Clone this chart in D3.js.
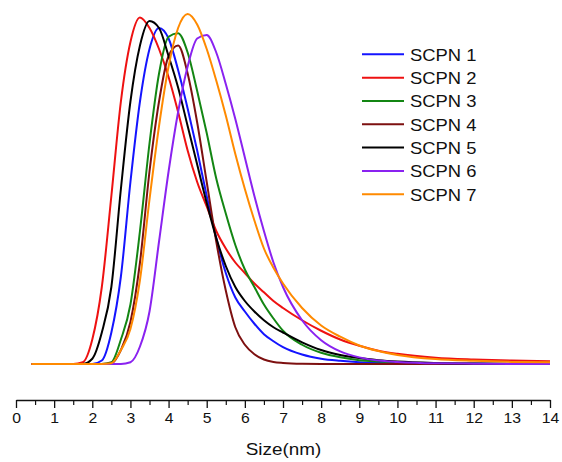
<!DOCTYPE html>
<html>
<head>
<meta charset="utf-8">
<script src="https://cdn.jsdelivr.net/npm/d3@7"></script>
<style>
  html, body { margin: 0; padding: 0; background: #fff; }
  svg { display: block; }
  text { font-family: "Liberation Sans", Arial, sans-serif; fill: #111; }
</style>
</head>
<body>
<svg id="chart" width="562" height="462"></svg>
<script>
// ---- data ----
const sizes = [0.4, 1.5, 1.75, 2.0, 2.25, 2.5, 2.75, 3.0, 3.25, 3.5, 3.75, 4.0, 4.25, 4.5, 4.75, 5.0,
               5.25, 5.5, 5.75, 6.0, 6.25, 6.5, 6.75, 7.0, 7.5, 8.0, 8.5, 9.0, 9.5, 10, 11, 12, 13, 14];

const scpn1 = [0, 0, 0, 0, 1, 9, 25, 52, 75, 90, 96, 93, 84, 73, 61, 48,
               36, 26, 19, 15, 11.5, 8.5, 6.5, 4.8, 2.7, 1.5, 0.9, 0.5, 0.3, 0.2, 0.1, 0.05, 0, 0];
const scpn2 = [0, 0, 0.5, 7, 22, 48, 75, 92, 99, 96, 90, 82, 72, 61, 52, 45,
               38, 33, 29, 26, 23, 20.5, 18, 16, 12.5, 9.5, 7, 5.2, 3.8, 2.9, 1.8, 1.3, 1.0, 0.8];
const scpn3 = [0, 0, 0, 0, 0, 0.5, 7, 17, 38, 63, 83, 93.5, 94.5, 89, 78, 66,
               53, 43, 34, 27, 22, 17, 13, 9.5, 5.5, 3.2, 1.9, 1.1, 0.7, 0.4, 0.15, 0.05, 0, 0];
const scpn4 = [0, 0, 0, 0, 0, 0.2, 4, 12, 29, 55, 75, 88, 91, 83, 69, 52,
               35, 21, 10.5, 5.5, 2.8, 1.3, 0.6, 0.3, 0.05, 0, 0, 0, 0, 0, 0, 0, 0, 0];
const scpn5 = [0, 0, 0, 1.5, 9, 22, 50, 75, 91, 98, 96, 88, 79, 68, 57, 46,
               36, 28, 22, 18, 15, 12.5, 10.5, 9, 6.2, 4.0, 2.6, 1.7, 1.1, 0.7, 0.3, 0.15, 0.1, 0.05];
const scpn6 = [0, 0, 0, 0, 0, 0, 0, 0.5, 5, 15, 35, 55, 72, 85, 93, 94,
               89, 80, 70, 59, 48, 38, 29, 22, 12.5, 6.8, 3.6, 1.9, 1.0, 0.6, 0.2, 0.1, 0, 0];
const scpn7 = [0, 0, 0, 0, 0, 0.2, 4, 10, 24, 47, 68, 85, 96, 100, 97, 90,
               81, 71, 60, 50, 41, 33, 27.5, 23, 16, 11, 7.8, 5.3, 3.7, 2.6, 1.4, 0.9, 0.6, 0.5];

const seriesNames = ["SCPN 1", "SCPN 2", "SCPN 3", "SCPN 4", "SCPN 5", "SCPN 6", "SCPN 7"];
const seriesColors = ["#1414ff", "#ee1111", "#138613", "#7d1010", "#000000", "#8a22f0", "#ff8a00"];
const seriesValues = [scpn1, scpn2, scpn3, scpn4, scpn5, scpn6, scpn7];

const majorTicks = d3.range(0, 15, 1);
const minorTicks = d3.range(0.5, 14, 1);
const xTitle = "Size(nm)";

// ---- layout ----
const svg = d3.select("#chart");
const x = d3.scaleLinear().domain([0, 14]).range([16, 550]);
const y = d3.scaleLinear().domain([0, 100]).range([364, 14]);
const axisY = 400;

// minor ticks
svg.append("g")
  .attr("transform", `translate(0,${axisY})`)
  .call(d3.axisBottom(x).tickValues(minorTicks).tickSize(5).tickSizeOuter(0).tickFormat(""))
  .call(g => g.select(".domain").remove())
  .call(g => g.selectAll("line").attr("stroke", "#111").attr("stroke-width", 1.2));

// major ticks + labels
const xAxis = svg.append("g")
  .attr("transform", `translate(0,${axisY})`)
  .call(d3.axisBottom(x).tickValues(majorTicks).tickSize(8).tickSizeOuter(0).tickPadding(4.5).tickFormat(d3.format("d")));
xAxis.attr("font-size", 15).attr("font-family", "Liberation Sans, Arial, sans-serif");
xAxis.select(".domain").attr("stroke", "#111").attr("stroke-width", 1.3);
xAxis.selectAll("line").attr("stroke", "#111").attr("stroke-width", 1.3);
xAxis.selectAll("text")
  .style("font-size", "15px")
  .attr("fill", "#111")
  .attr("transform", "scale(1.05,1)");

// axis title
svg.append("text")
  .attr("transform", `translate(${x(7) + 0.5},455) scale(1.18,1)`)
  .attr("text-anchor", "middle")
  .attr("font-size", 16)
  .text(xTitle);

// curves
const line = d3.line()
  .x((d, i) => x(sizes[i]))
  .y(d => y(d))
  .curve(d3.curveMonotoneX);

seriesValues.forEach((vals, k) => {
  svg.append("path")
    .datum(vals)
    .attr("fill", "none")
    .attr("stroke", seriesColors[k])
    .attr("stroke-width", 2)
    .attr("stroke-linejoin", "round")
    .attr("d", line);
});

// legend
const legend = svg.append("g");
seriesNames.forEach((name, k) => {
  const ly = 54.3 + k * 23.33;
  legend.append("line")
    .attr("x1", 362).attr("x2", 404)
    .attr("y1", ly).attr("y2", ly)
    .attr("stroke", seriesColors[k])
    .attr("stroke-width", 2);
  legend.append("text")
    .attr("transform", `translate(410,${ly + 6.3}) scale(1.15,1)`)
    .attr("font-size", 16)
    .text(name);
});
</script>
</body>
</html>
